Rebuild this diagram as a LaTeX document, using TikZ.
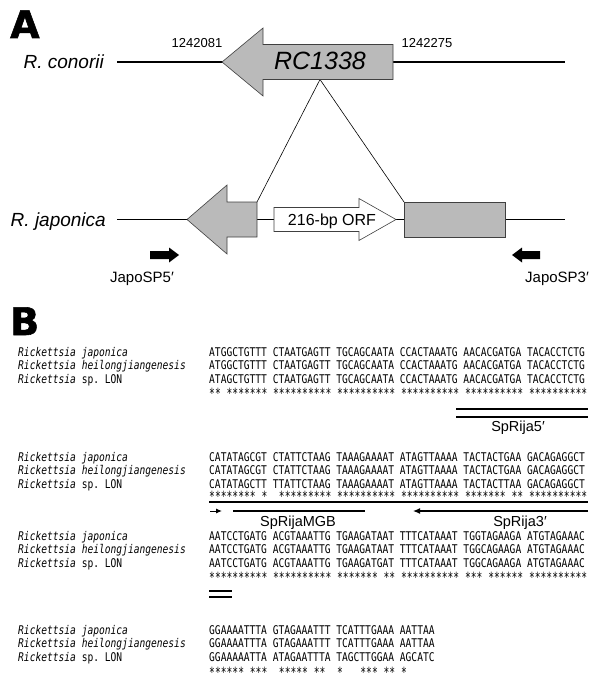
\documentclass[tikz,border=0pt]{standalone}
\usepackage{fontspec}
\setmainfont{Liberation Sans}
\newfontfamily\seqfont[FakeStretch=0.8]{DejaVu Sans Mono}
\newfontfamily\starfont[FakeStretch=0.69]{DejaVu Sans Mono}
\newfontfamily\panelfont[FakeBold=1.5]{DejaVu Sans Bold}
\usetikzlibrary{arrows.meta}
\frenchspacing

\begin{document}
\begin{tikzpicture}[x=1pt,y=-1pt,
  gene/.style={fill=black!27,draw=black!75,line width=0.6pt},
  orf/.style={fill=white,draw=black!75,line width=0.6pt},
  primer/.style={fill=black},
  seq/.style={anchor=base west,inner sep=0pt,font=\seqfont\fontsize{12}{13}\selectfont},
  stars/.style={anchor=base west,inner sep=0pt,font=\starfont\fontsize{14}{15}\selectfont},
  oligo/.style={anchor=base,inner sep=0pt,font=\fontsize{14.5}{16}\selectfont}]
  \useasboundingbox (0,0) rectangle (600,695);
  % Coordinates
  \coordinate (c1) at (117,62);
  \coordinate (c2) at (565,62);
  \coordinate (j1) at (117,219.5);
  \coordinate (j2) at (565,219.5);
  \coordinate (apex) at (320,79.5);
  \coordinate (jl) at (257,202);
  \coordinate (jr) at (404,202);

  % Panel labels
  \node[anchor=base west,inner sep=0pt] (pa) at (10,38) {\panelfont\fontsize{38}{40}\selectfont A};
  \node[anchor=base west,inner sep=0pt] (pb) at (10,335) {\panelfont\fontsize{38}{40}\selectfont B};

  % Genome lines
  \draw[line width=1.6pt] (c1) -- (c2);
  \draw[line width=1.6pt] (j1) -- (j2);
  \draw[line width=0.6pt] (jl) -- (apex) -- (jr);

  % R. conorii gene
  \draw[gene] (222,62) -- (263,28) -- (263,44.5) -- (393,44.5) -- (393,79.5) -- (263,79.5) -- (263,96) -- cycle;
  % R. japonica genes
  \draw[gene] (187,219.5) -- (227,185) -- (227,202) -- (257,202) -- (257,237) -- (227,237) -- (227,254) -- cycle;
  \draw[orf] (274,207.5) -- (359,207.5) -- (359,198.5) -- (396,219.5) -- (359,240.5) -- (359,231.5) -- (274,231.5) -- cycle;
  \draw[gene] (jr) rectangle (505,237);
  % Primers
  \fill[primer] (150,251) -- (169,251) -- (169,247.5) -- (179,255) -- (169,262.5) -- (169,259) -- (150,259) -- cycle;
  \fill[primer] (540,251) -- (522,251) -- (522,247.5) -- (512,255) -- (522,262.5) -- (522,259) -- (540,259) -- cycle;

  % Labels
  \node[anchor=base east,inner sep=0pt] (rcon) at (104,69) {\fontsize{19}{22}\selectfont\itshape R. conorii};
  \node[anchor=base east,inner sep=0pt] (rjap) at (106,226) {\fontsize{19}{22}\selectfont\itshape R. japonica};
  \node[anchor=base,inner sep=0pt] (pos1) at (197,48) {\fontsize{13}{15}\selectfont 1242081};
  \node[anchor=base,inner sep=0pt] (pos2) at (427,48) {\fontsize{13}{15}\selectfont 1242275};
  \node[anchor=base,inner sep=0pt] (rc) at (320,70) {\fontsize{25}{30}\selectfont\itshape RC1338};
  \node[anchor=base,inner sep=0pt] (orf) at (332,225) {\fontsize{16}{18}\selectfont 216-bp ORF};
  \node[anchor=base,inner sep=0pt] (sp5) at (142,282.5) {\fontsize{15}{17}\selectfont JapoSP5′};
  \node[anchor=base,inner sep=0pt] (sp3) at (557,282.5) {\fontsize{15}{17}\selectfont JapoSP3′};

  % Species names
  \foreach \b/\y in {1/356,2/461,3/540,4/634}{
    \node[seq] (ja\b) at (18,\y) {\itshape Rickettsia japonica};
    \node[seq] (he\b) at (18,{\y+13.5}) {\itshape Rickettsia heilongjiangenesis};
    \node[seq] (lo\b) at (18,{\y+27}) {{\itshape Rickettsia} sp. LON};
  }

  % Block 1
  \node[seq] (s1a) at (209,356) {ATGGCTGTTT CTAATGAGTT TGCAGCAATA CCACTAAATG AACACGATGA TACACCTCTG};
  \node[seq] (s1b) at (209,369.5) {ATGGCTGTTT CTAATGAGTT TGCAGCAATA CCACTAAATG AACACGATGA TACACCTCTG};
  \node[seq] (s1c) at (209,383) {ATAGCTGTTT CTAATGAGTT TGCAGCAATA CCACTAAATG AACACGATGA TACACCTCTG};
  \node[stars] (m1) at (209,398) {**\ *******\ **********\ **********\ **********\ **********\ **********};
  \draw[line width=1.8pt] (456,409) -- (588,409);
  \draw[line width=1.2pt] (456,417) -- (588,417);
  \node[oligo] (o5) at (518,431) {SpRija5′};

  % Block 2
  \node[seq] (s2a) at (209,461) {CATATAGCGT CTATTCTAAG TAAAGAAAAT ATAGTTAAAA TACTACTGAA GACAGAGGCT};
  \node[seq] (s2b) at (209,474.5) {CATATAGCGT CTATTCTAAG TAAAGAAAAT ATAGTTAAAA TACTACTGAA GACAGAGGCT};
  \node[seq] (s2c) at (209,488) {CATATAGCTT TTATTCTAAG TAAAGAAAAT ATAGTTAAAA TACTACTTAA GACAGAGGCT};
  \node[stars] (m2) at (209,501.5) {********\ *\ \ *********\ **********\ **********\ *******\ **\ **********};
  \draw[line width=2.6pt] (209,502) -- (588,502);
  \draw[-{Latex[length=6pt,width=5pt]},line width=1pt] (210,511) -- (222,511);
  \draw[line width=1.2pt] (233,511) -- (365,511);
  \draw[-{Latex[length=7pt,width=6pt]},line width=1.2pt] (588,511) -- (413,511);
  \node[oligo] (omgb) at (298,526) {SpRijaMGB};
  \node[oligo] (o3) at (520,526) {SpRija3′};

  % Block 3
  \node[seq] (s3a) at (209,540) {AATCCTGATG ACGTAAATTG TGAAGATAAT TTTCATAAAT TGGTAGAAGA ATGTAGAAAC};
  \node[seq] (s3b) at (209,553.5) {AATCCTGATG ACGTAAATTG TGAAGATAAT TTTCATAAAT TGGCAGAAGA ATGTAGAAAC};
  \node[seq] (s3c) at (209,567) {AATCCTGATG ACGTAAATTG TGAAGATGAT TTTCATAAAT TGGCAGAAGA ATGTAGAAAC};
  \node[stars] (m3) at (209,582) {**********\ **********\ *******\ **\ **********\ ***\ ******\ **********};
  \draw[line width=1.6pt] (209,591) -- (232,591);
  \draw[line width=1.2pt] (209,597) -- (232,597);

  % Block 4
  \node[seq] (s4a) at (209,634) {GGAAAATTTA GTAGAAATTT TCATTTGAAA AATTAA};
  \node[seq] (s4b) at (209,647.5) {GGAAAATTTA GTAGAAATTT TCATTTGAAA AATTAA};
  \node[seq] (s4c) at (209,661) {GGAAAAATTA ATAGAATTTA TAGCTTGGAA AGCATC};
  \node[stars] (m4) at (209,677) {******\ ***\ \ *****\ **\ \ *\ \ \ ***\ **\ *};
\end{tikzpicture}
\end{document}
